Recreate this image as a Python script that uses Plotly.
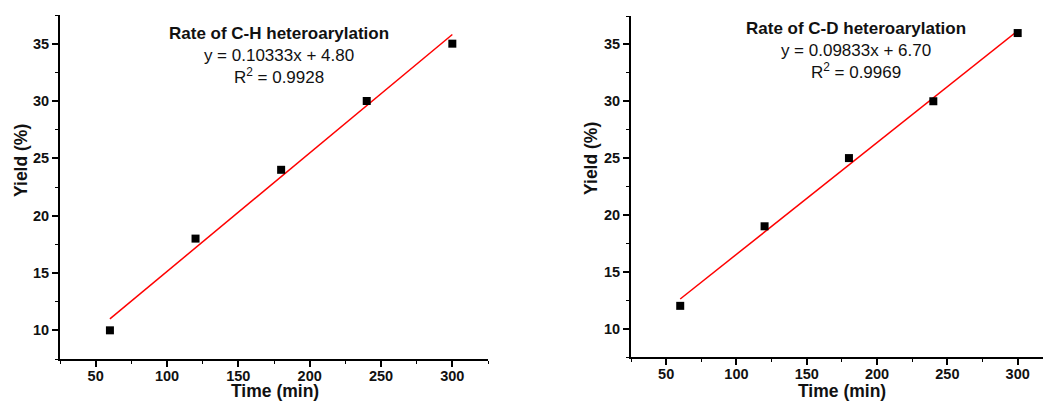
import numpy as np
import plotly.graph_objects as go

time_min = [60, 120, 180, 240, 300]
yield_ch = [10, 18, 24, 30, 35]
yield_cd = [12, 19, 25, 30, 36]
titles = ["Rate of C-H heteroarylation", "Rate of C-D heteroarylation"]
eq_texts = ["y = 0.10333x + 4.80", "y = 0.09833x + 6.70"]
r2_texts = ["0.9928", "0.9969"]
x_title = "Time (min)"
y_title = "Yield (%)"

FONT = "Liberation Sans, Arial, sans-serif"
W, H = 1043, 402

fig = go.Figure()

for i, ys in enumerate([yield_ch, yield_cd]):
    xa = "x" if i == 0 else "x2"
    ya = "y" if i == 0 else "y2"
    slope, intercept = np.polyfit(time_min, ys, 1)
    xs = np.array([time_min[0], time_min[-1]], dtype=float)
    fig.add_trace(go.Scatter(x=xs, y=slope * xs + intercept, mode="lines",
                             line=dict(color="#ff0000", width=1.5),
                             xaxis=xa, yaxis=ya, showlegend=False, hoverinfo="skip"))
    fig.add_trace(go.Scatter(x=time_min, y=ys, mode="markers",
                             marker=dict(symbol="square", size=8, color="black"),
                             xaxis=xa, yaxis=ya, showlegend=False))

def px_x(p):
    return p / W

def px_y(p):
    return (H - p) / H

axis_common = dict(
    showline=True, linecolor="black", linewidth=2,
    ticks="outside", ticklen=6, tickwidth=1.5, tickcolor="black",
    showgrid=False, zeroline=False, mirror=False,
    tickfont=dict(family=FONT, size=14.5, color="#111"),
    tickprefix="<b>", ticksuffix="</b>",
)
minor_x = dict(ticks="outside", ticklen=3, dtick=25, tick0=0, tickcolor="black", tickwidth=1.2)
minor_y = dict(ticks="outside", ticklen=3, dtick=2.5, tick0=0, tickcolor="black", tickwidth=1.2)

fig.update_layout(
    width=W, height=H,
    margin=dict(l=0, r=0, t=0, b=0),
    paper_bgcolor="white", plot_bgcolor="white",
    font=dict(family=FONT, color="#111"),
    xaxis=dict(domain=[px_x(60), px_x(488)], range=[25, 325], dtick=50, tick0=0,
               minor=minor_x, anchor="y", ticklabelstandoff=-3, **axis_common),
    yaxis=dict(domain=[px_y(359), px_y(15)], range=[7.5, 37.5], dtick=5, tick0=0,
               minor=minor_y, anchor="x", **axis_common),
    xaxis2=dict(domain=[px_x(631), 1.0], range=[25, 318], dtick=50, tick0=0,
                minor=minor_x, anchor="y2", ticklabelstandoff=-3, **axis_common),
    yaxis2=dict(domain=[px_y(357), px_y(16)], range=[7.5, 37.5], dtick=5, tick0=0,
                minor=minor_y, anchor="x2", **axis_common),
)

title_font = dict(family=FONT, size=17.5, color="#111")
# axis titles
for xc in [275, 842]:
    fig.add_annotation(xref="paper", yref="paper", x=px_x(xc), y=0,
                       xanchor="center", yanchor="bottom", showarrow=False, borderpad=0,
                       text=f"<b>{x_title}</b>", font=title_font)
for xc, yc in [(21, 161), (591, 159)]:
    fig.add_annotation(xref="paper", yref="paper", x=px_x(xc), y=px_y(yc),
                       xanchor="center", yanchor="middle", showarrow=False, textangle=-90,
                       text=f"<b>{y_title}</b>", font=title_font)

ann_x = [279, 856]
ann_y = [22, 17]
for i in range(2):
    fig.add_annotation(
        xref="paper", yref="paper", x=px_x(ann_x[i]), y=px_y(ann_y[i]),
        xanchor="center", yanchor="top", align="center", showarrow=False,
        text=f"<b>{titles[i]}</b><br>{eq_texts[i]}<br>R<sup>2</sup> = {r2_texts[i]}",
        font=dict(family=FONT, size=17, color="#111"),
    )

fig.write_html("out.html")
